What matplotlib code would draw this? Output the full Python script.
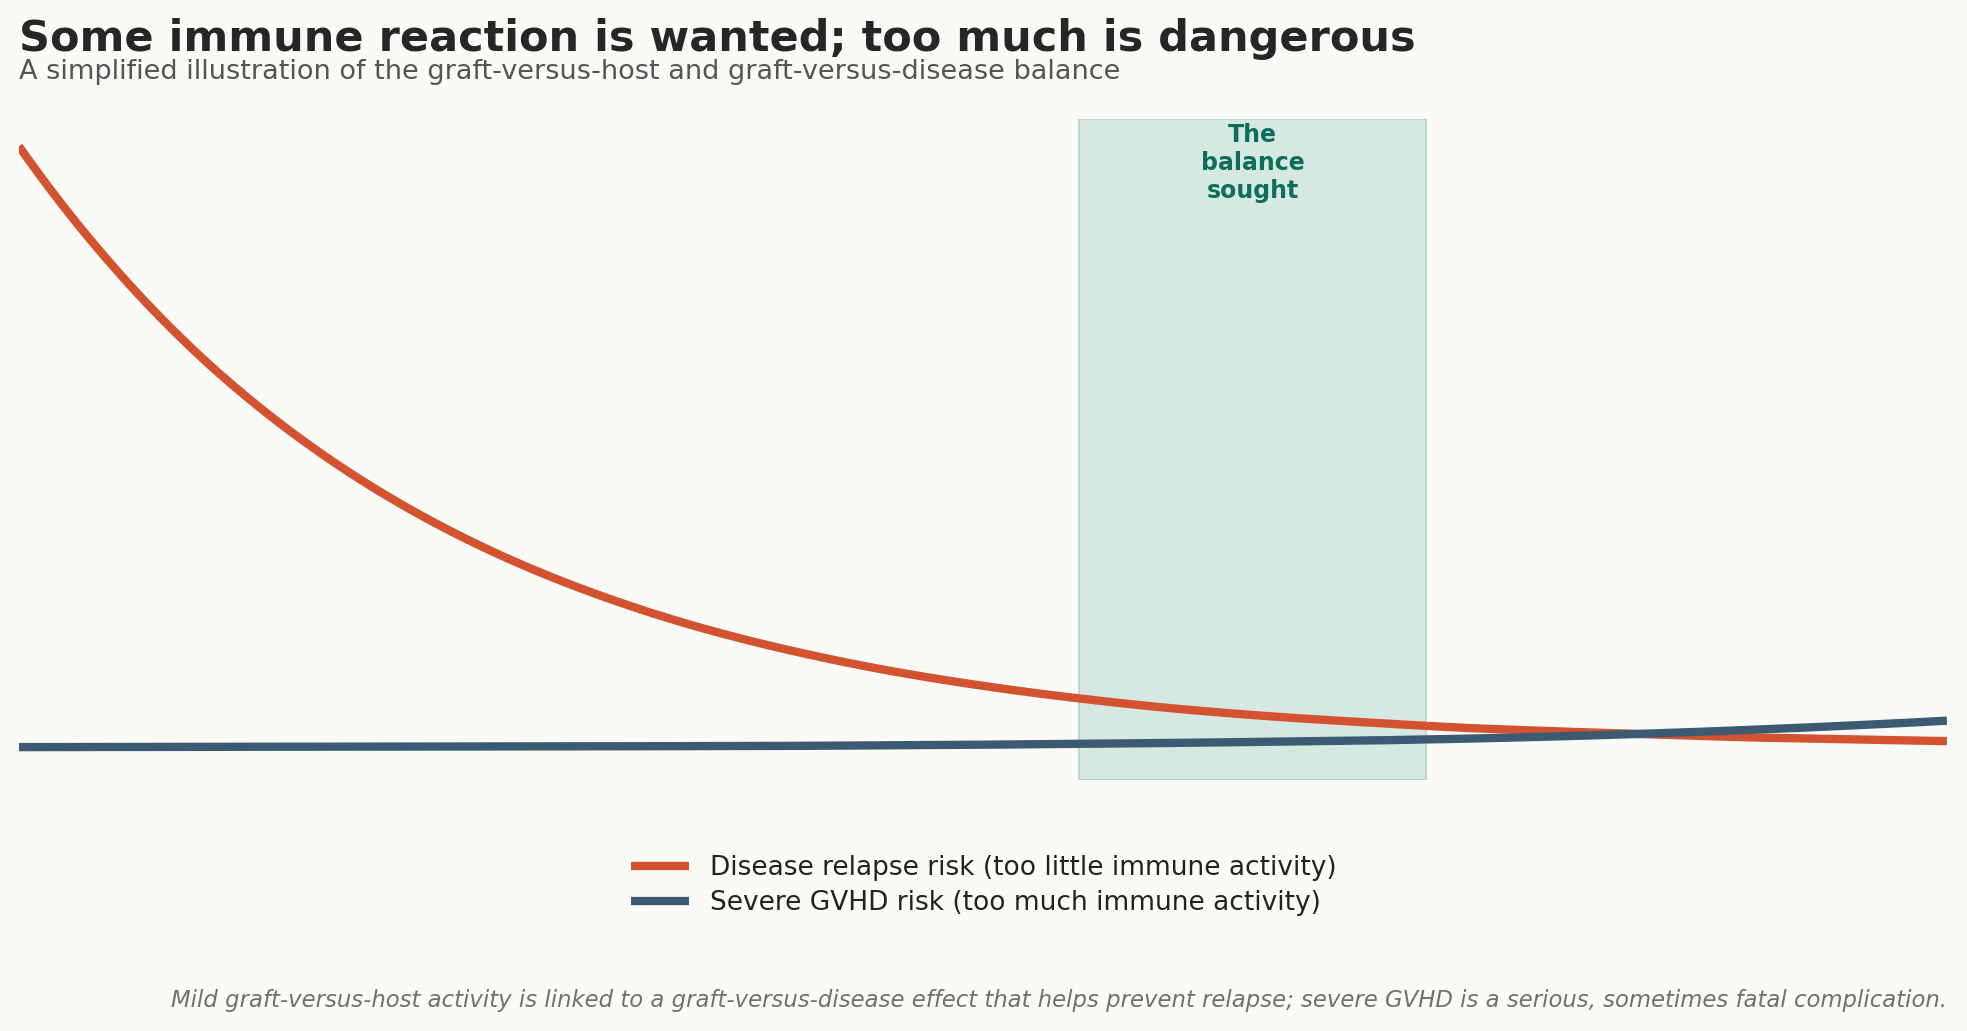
import matplotlib
matplotlib.use("Agg")
import matplotlib.pyplot as plt
import numpy as np

x_activity = [0, 0.5, 1, 1.5, 2, 2.5, 3, 3.5, 4, 4.5, 5, 5.5, 6, 6.5, 7, 7.5, 8, 8.5, 9, 9.5, 10]
relapse_risk = [100, 79.6, 63.3, 50.4, 40.1, 31.9, 25.4, 20.2, 16.1, 12.8, 10.2, 8.1, 6.4, 5.1, 4.1, 3.2, 2.6, 2.1, 1.6, 1.3, 1.0]
gvhd_risk = [0, 0.02, 0.04, 0.06, 0.08, 0.1, 0.13, 0.16, 0.2, 0.3, 0.4, 0.55, 0.7, 0.9, 1.1, 1.4, 1.8, 2.3, 2.9, 3.6, 4.4]
balance_range = [5.5, 7.3]

bg = "#fafaf6"
fig = plt.figure(figsize=(19.67, 10.31), dpi=100, facecolor=bg)
ax = fig.add_axes([0.0096, 0.2433, 0.9802, 0.6411], facecolor=bg)

ax.axvspan(balance_range[0], balance_range[1], facecolor="#d6e8e2", edgecolor="#b5d3cb", linewidth=1.2, zorder=1)
ax.text(sum(balance_range)/2, 103.8, "The\nbalance\nsought", ha="center", va="top", fontsize=17,
        fontweight="bold", color="#0e6e5c", linespacing=1.2, zorder=3)

xs = np.linspace(0, 10, 400)
relapse_s = np.exp(np.interp(xs, x_activity, np.log(relapse_risk)))
gvhd_s = np.exp(np.interp(xs, x_activity, np.log(np.array(gvhd_risk) + 0.3))) - 0.3
ax.plot(xs, relapse_s, color="#d35230", lw=6, solid_capstyle="butt", zorder=2,
        label="Disease relapse risk (too little immune activity)")
ax.plot(xs, gvhd_s, color="#3d5a73", lw=6, solid_capstyle="butt", zorder=2,
        label="Severe GVHD risk (too much immune activity)")
ax.set_xlim(0, 10)
ax.set_ylim(-5.5, 104.5)
ax.axis("off")

fig.legend(loc="center", bbox_to_anchor=(0.5, 0.141), frameon=False, fontsize=19, handlelength=2.2,
           labelcolor="#222222", labelspacing=0.35)

fig.text(0.0096, 0.962, "Some immune reaction is wanted; too much is dangerous", fontsize=31,
         fontweight="bold", color="#262626", va="center")
fig.text(0.0096, 0.930, "A simplified illustration of the graft-versus-host and graft-versus-disease balance",
         fontsize=19.5, color="#555555", va="center")
fig.text(0.9898, 0.030, "Mild graft-versus-host activity is linked to a graft-versus-disease effect that helps prevent relapse; severe GVHD is a serious, sometimes fatal complication.",
         fontsize=16.4, style="italic", color="#707070", ha="right", va="center")

fig.savefig("out.png", dpi=100, facecolor=bg)
